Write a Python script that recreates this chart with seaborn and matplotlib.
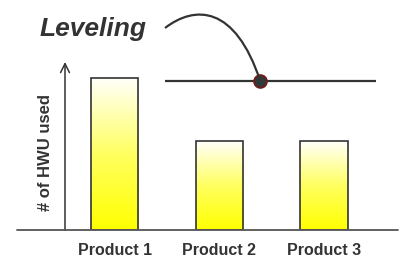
import numpy as np
import seaborn as sns
import matplotlib.pyplot as plt
from matplotlib.path import Path
from matplotlib.patches import PathPatch
from matplotlib.transforms import Affine2D

# data
products = ['Product 1', 'Product 2', 'Product 3']
hwu_used = [152, 89, 89]
level = 149
level_span = [0.48, 2.5]
dot_x = 1.39

sns.set_style('white')
plt.rcParams['font.family'] = ['Liberation Sans', 'DejaVu Sans']

W, H = 401, 257
fig = plt.figure(figsize=(W / 100, H / 100), dpi=100)
ax = fig.add_axes([65 / W, 27 / H, 333 / W, 168 / H])

ink = '#333333'
sns.barplot(x=products, y=hwu_used, width=0.45, color='white',
            edgecolor=ink, linewidth=1.2, ax=ax, zorder=3)

# white-to-yellow gradient inside each bar
grad = np.linspace(0, 1, 256).reshape(-1, 1)
cmap = sns.blend_palette(['#fffffa', '#ffff60', '#ffff00'], as_cmap=True)
for p in ax.patches:
    p.set_facecolor('none')
    x0, y0 = p.get_x(), p.get_y()
    im = ax.imshow(grad, extent=[x0, x0 + p.get_width(), y0, y0 + p.get_height()],
                   origin='upper', aspect='auto', cmap=cmap, zorder=2)
    im.set_clip_path(p)

ax.set_xlim(-0.478, 2.708)
ax.set_ylim(0, 168)

# leveling line and point
ax.hlines(level, level_span[0], level_span[1], color=ink, lw=1.6, zorder=4)
ax.plot([dot_x], [level], 'o', ms=9, mfc='#2f3b3b', mec='#6e1c1c', mew=1.5,
        zorder=6, clip_on=False)

# axes decoration
for s in ax.spines.values():
    s.set_visible(False)
ax.axhline(0, xmin=(17 - 65) / 333, xmax=1, color='#555555', lw=1.3, clip_on=False, zorder=5)
ax.annotate('', xy=(0, 1.0), xytext=(0, 0), xycoords='axes fraction',
            arrowprops=dict(arrowstyle='->', color=ink, lw=1.1, mutation_scale=16,
                            shrinkA=0, shrinkB=0))
ax.set_yticks([])
ax.tick_params(axis='x', length=0, pad=9.5)
for t in ax.get_xticklabels():
    t.set_fontsize(11.5)
    t.set_fontweight('bold')
    t.set_color(ink)
ax.set_xlabel('')
ax.set_ylabel('# of HWU used', fontsize=12, fontweight='bold', color=ink)
ax.yaxis.set_label_coords(-0.036, 0.46)

# title and connector curve (figure pixel coordinates, measured from top)
to_fig = Affine2D().scale(1 / W, -1 / H).translate(0, 1)
px = to_fig + fig.transFigure
fig.text(40 / W, 1 - 29 / H, 'Leveling', fontsize=19, fontweight='bold',
         fontstyle='italic', color=ink, va='center', ha='left')
end = px.inverted().transform(ax.transData.transform((dot_x, level)))
verts = [(165, 28), (195, 5), (235, 5), (end[0], end[1])]
curve = Path(verts, [Path.MOVETO, Path.CURVE4, Path.CURVE4, Path.CURVE4])
fig.add_artist(PathPatch(curve, fill=False, color=ink, lw=1.6, transform=px, zorder=5))

fig.savefig('out.png', dpi=100)
